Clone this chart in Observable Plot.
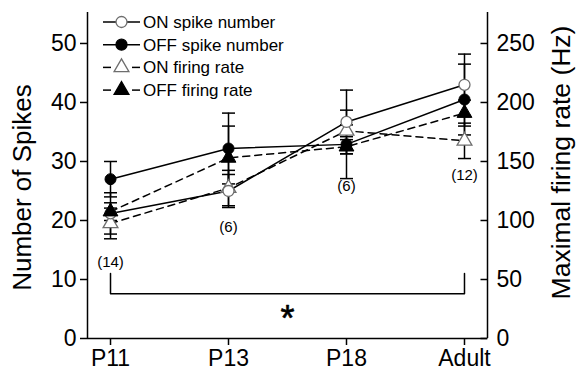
<!DOCTYPE html>
<html>
<head>
<meta charset="utf-8">
<script src="https://cdn.jsdelivr.net/npm/d3@7"></script>
<script src="https://cdn.jsdelivr.net/npm/@observablehq/plot@0.6"></script>
<style>
  html, body { margin: 0; padding: 0; background: #fff; }
  #chart { position: relative; width: 576px; height: 375px; }
</style>
</head>
<body>
<div id="chart"></div>
<script>
// ---- Data ----
const stages = ["P11", "P13", "P18", "Adult"];
const onSpikeMean  = [21.2, 25.0, 36.7, 43.0];
const onSpikeErr   = [3.5, 2.8, 5.4, 5.2];
const offSpikeMean = [27.0, 32.2, 32.9, 40.5];
const offSpikeErr  = [3.0, 6.0, 5.8, 6.0];
const onRateMean   = [97.5, 127.5, 176, 167.5];   // Hz
const onRateErr    = [13, 15, 5, 15];
const offRateMean  = [107.5, 153, 162.5, 191];    // Hz
const offRateErr   = [7.5, 27, 6, 11];
const nLabels      = ["(14)", "(6)", "(6)", "(12)"];
const nLabelY      = [12.9, 18.8, 25.8, 27.6];    // in spike-count units
const leftTicks    = [0, 10, 20, 30, 40, 50];
const bracketX     = [0, 0, 3, 3];
const bracketY     = [11.0, 7.6, 7.6, 11.0];
const starLabel    = "*";
const starX        = 1.5;
const starY        = 3.3;
const yLabelLeft   = "Number of Spikes";
const yLabelRight  = "Maximal firing rate (Hz)";
const seriesNames  = ["ON spike number", "OFF spike number", "ON firing rate", "OFF firing rate"];

// ---- Build tables ----
const rateFactor = 5; // 250 Hz on right axis aligns with 50 spikes on left axis
function rows(mean, err, scale) {
  return stages.map((s, i) => ({ i, stage: s, v: mean[i] / scale, lo: (mean[i] - err[i]) / scale, hi: (mean[i] + err[i]) / scale }));
}
const onSpike  = rows(onSpikeMean, onSpikeErr, 1);
const offSpike = rows(offSpikeMean, offSpikeErr, 1);
const onRate   = rows(onRateMean, onRateErr, rateFactor);
const offRate  = rows(offRateMean, offRateErr, rateFactor);
const allRows = [...onRate, ...offRate, ...onSpike, ...offSpike];
const bracket = bracketX.map((x, k) => ({ x, y: bracketY[k] }));
const nTable = stages.map((s, i) => ({ i, label: nLabels[i], y: nLabelY[i] }));

const xDomain = [-0.195, 3.195];
const yDomain = [0, 55.25];

const capSymbol = { draw(ctx) { ctx.moveTo(-6.5, 0); ctx.lineTo(6.5, 0); } };
const inTick = { draw(ctx) { ctx.moveTo(-7, 0); ctx.lineTo(0, 0); } };

const dash = "7,5";
const openGray = "#6e6e6e";

const plot = Plot.plot({
  width: 576,
  height: 375,
  marginLeft: 87,
  marginRight: 89,
  marginTop: 12,
  marginBottom: 37,
  style: { fontFamily: "'Liberation Sans', Arial, sans-serif", fontSize: "23px", color: "black", background: "white" },
  x: { domain: xDomain, axis: null },
  y: { domain: yDomain, axis: null },
  marks: [
    // axis lines
    Plot.ruleX(xDomain, { stroke: "black", strokeWidth: 1.5 }),
    Plot.ruleY([0], { stroke: "black", strokeWidth: 1.5 }),
    // axes
    Plot.axisX({ ticks: [0, 1, 2, 3], tickFormat: i => stages[i], tickSize: 7, tickPadding: 4, label: null, stroke: "black", strokeWidth: 1.5, fill: "black" }),
    Plot.axisY({ anchor: "left", ticks: leftTicks, tickSize: 7, tickPadding: 4, label: null, stroke: "black", strokeWidth: 1.5, fill: "black" }),
    Plot.axisY({ anchor: "right", ticks: leftTicks, tickFormat: d => d * rateFactor, tickSize: 0, tickPadding: 9, label: null, fill: "black" }),
    Plot.dot(leftTicks, { y: d => d, frameAnchor: "right", symbol: inTick, stroke: "black", strokeWidth: 1.5 }),
    // axis titles
    Plot.text([yLabelLeft], { text: d => d, frameAnchor: "left", textAnchor: "middle", rotate: -90, dx: -65, dy: 12, fontSize: 26, fill: "black" }),
    Plot.text([yLabelRight], { text: d => d, frameAnchor: "right", textAnchor: "middle", rotate: -90, dx: 74, dy: -13, fontSize: 26.5, fill: "black" }),
    // error bars
    Plot.ruleX(allRows, { x: "i", y1: "lo", y2: "hi", stroke: "black", strokeWidth: 1.5 }),
    Plot.dot(allRows, { x: "i", y: "lo", symbol: capSymbol, stroke: "black", strokeWidth: 1.5, fill: "none" }),
    Plot.dot(allRows, { x: "i", y: "hi", symbol: capSymbol, stroke: "black", strokeWidth: 1.5, fill: "none" }),
    // lines
    Plot.line(onRate,  { x: "i", y: "v", stroke: "black", strokeWidth: 1.5, strokeDasharray: dash }),
    Plot.line(offRate, { x: "i", y: "v", stroke: "black", strokeWidth: 1.5, strokeDasharray: dash }),
    Plot.line(onSpike, { x: "i", y: "v", stroke: "black", strokeWidth: 1.5 }),
    Plot.line(offSpike,{ x: "i", y: "v", stroke: "black", strokeWidth: 1.5 }),
    // markers
    Plot.dot(onRate,  { x: "i", y: "v", symbol: "triangle", r: 5.5, fill: "white", stroke: openGray, strokeWidth: 1.3 }),
    Plot.dot(onSpike, { x: "i", y: "v", symbol: "circle", r: 5.5, fill: "white", stroke: openGray, strokeWidth: 1.3 }),
    Plot.dot(offRate, { x: "i", y: "v", symbol: "triangle", r: 5.5, fill: "black", stroke: "black", strokeWidth: 1 }),
    Plot.dot(offSpike,{ x: "i", y: "v", symbol: "circle", r: 5.5, fill: "black", stroke: "black", strokeWidth: 1 }),
    // n labels
    Plot.text(nTable, { x: "i", y: "y", text: "label", fontSize: 15, fill: "black" }),
    // significance bracket
    Plot.line(bracket, { x: "x", y: "y", stroke: "black", strokeWidth: 1.5 }),
    Plot.text([starLabel], { x: () => starX, y: () => starY, text: d => d, fontSize: 36, fill: "black", stroke: "black", strokeWidth: 0.6 })
  ]
});

document.getElementById("chart").appendChild(plot);

// ---- Legend (inside the plot area, top-left) ----
const legendStyles = [
  { dashed: false, symbol: d3.symbolCircle, fill: "white", stroke: openGray, size: Math.PI * 5.5 * 5.5 },
  { dashed: false, symbol: d3.symbolCircle, fill: "black", stroke: "black", size: Math.PI * 5.5 * 5.5 },
  { dashed: true,  symbol: d3.symbolTriangle, fill: "white", stroke: openGray, size: Math.PI * 5.5 * 5.5 },
  { dashed: true,  symbol: d3.symbolTriangle, fill: "black", stroke: "black", size: Math.PI * 5.5 * 5.5 }
];
const svg = d3.select(plot);
const lg = svg.append("g").attr("transform", "translate(103,22)");
seriesNames.forEach((name, k) => {
  const st = legendStyles[k];
  const g = lg.append("g").attr("transform", `translate(0,${k * 22.7})`);
  if (st.dashed) {
    g.append("line").attr("x1", 0).attr("x2", 8).attr("y1", 0).attr("y2", 0).attr("stroke", "black").attr("stroke-width", 1.5);
    g.append("line").attr("x1", 29).attr("x2", 37).attr("y1", 0).attr("y2", 0).attr("stroke", "black").attr("stroke-width", 1.5);
  } else {
    g.append("line").attr("x1", 0).attr("x2", 37).attr("y1", 0).attr("y2", 0).attr("stroke", "black").attr("stroke-width", 1.5);
  }
  g.append("path").attr("transform", "translate(18.5,0)")
    .attr("d", d3.symbol(st.symbol, st.size)())
    .attr("fill", st.fill).attr("stroke", st.stroke).attr("stroke-width", 1.3);
  g.append("text").attr("x", 40).attr("y", 0).attr("dy", "0.35em")
    .attr("text-anchor", "start")
    .attr("font-size", 17).attr("fill", "black").text(name);
});
</script>
</body>
</html>
